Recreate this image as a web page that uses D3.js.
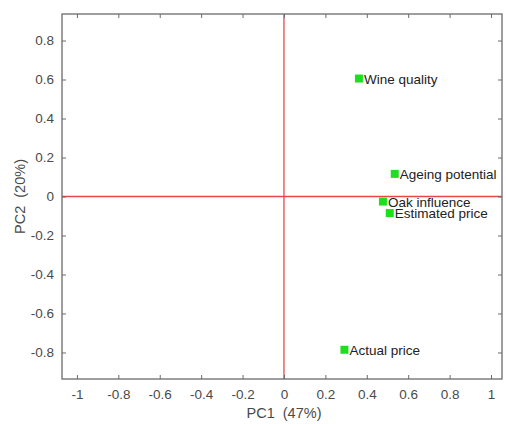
<!DOCTYPE html>
<html>
<head>
<meta charset="utf-8">
<script src="https://cdn.jsdelivr.net/npm/d3@7"></script>
<style>
  html, body { margin: 0; padding: 0; background: #fff; }
  svg { display: block; font-family: "Liberation Sans", Arial, sans-serif; }
</style>
</head>
<body>
<svg id="chart" width="506" height="424"></svg>
<script>
const labels = ["Wine quality", "Ageing potential", "Oak influence", "Estimated price", "Actual price"];
const pc1 = [0.362, 0.535, 0.478, 0.511, 0.292];
const pc2 = [0.605, 0.116, -0.026, -0.085, -0.786];
const xTicks = [-1, -0.8, -0.6, -0.4, -0.2, 0, 0.2, 0.4, 0.6, 0.8, 1];
const yTicks = [-0.8, -0.6, -0.4, -0.2, 0, 0.2, 0.4, 0.6, 0.8];
const xLabel = "PC1  (47%)";
const yLabel = "PC2  (20%)";

const svg = d3.select("#chart");
const L = 62, R = 502, T = 14, B = 379;
const x = d3.scaleLinear().domain([-1.072, 1.053]).range([L, R]);
const y = d3.scaleLinear().domain([-0.936, 0.936]).range([B, T]);

const axisColor = "#6b6b6b";
const textColor = "#4a4a4a";

// zero lines
svg.append("line").attr("x1", x(0)).attr("x2", x(0)).attr("y1", T).attr("y2", B)
  .attr("stroke", "#e8474a").attr("stroke-width", 1.3);
svg.append("line").attr("x1", L).attr("x2", R).attr("y1", y(0)).attr("y2", y(0))
  .attr("stroke", "#e8474a").attr("stroke-width", 1.3);

function styleAxis(g) {
  g.select(".domain").remove();
  g.selectAll(".tick line").attr("stroke", axisColor).attr("stroke-width", 1);
  g.selectAll(".tick text").attr("fill", textColor).style("font-size", "13.5px")
    .style("font-family", '"Liberation Sans", Arial, sans-serif');
}
const fmt = d => String(+d.toFixed(1));

svg.append("g").attr("transform", `translate(0,${B})`)
  .call(d3.axisBottom(x).tickValues(xTicks).tickFormat(fmt).tickSize(-4).tickPadding(10))
  .call(styleAxis);
svg.append("g").attr("transform", `translate(0,${T})`)
  .call(d3.axisTop(x).tickValues(xTicks).tickFormat("").tickSize(-4))
  .call(styleAxis);
svg.append("g").attr("transform", `translate(${L},0)`)
  .call(d3.axisLeft(y).tickValues(yTicks).tickFormat(fmt).tickSize(-4).tickPadding(8))
  .call(styleAxis);
svg.append("g").attr("transform", `translate(${R},0)`)
  .call(d3.axisRight(y).tickValues(yTicks).tickFormat("").tickSize(-4))
  .call(styleAxis);

// frame
svg.append("rect").attr("x", L).attr("y", T).attr("width", R - L).attr("height", B - T)
  .attr("fill", "none").attr("stroke", axisColor).attr("stroke-width", 1.3);

// points
const pts = labels.map((l, i) => ({ l, x: pc1[i], y: pc2[i] }));
const s = 8;
svg.append("g").selectAll("rect").data(pts).join("rect")
  .attr("x", d => x(d.x) - s / 2).attr("y", d => y(d.y) - s / 2)
  .attr("width", s).attr("height", s).attr("fill", "#1de01d");
svg.append("g").selectAll("text").data(pts).join("text")
  .attr("x", d => x(d.x) + s / 2 + 1).attr("y", d => y(d.y) + 5)
  .attr("fill", "#222").style("font-size", "13.5px").text(d => d.l);

// axis labels
svg.append("text").attr("x", (L + R) / 2 + 2).attr("y", 418).attr("text-anchor", "middle")
  .attr("fill", textColor).style("font-size", "14.5px").style("white-space", "pre")
  .attr("xml:space", "preserve").text(xLabel);
svg.append("text").attr("transform", `translate(25,${(T + B) / 2}) rotate(-90)`)
  .attr("text-anchor", "middle").attr("fill", textColor).style("font-size", "14.5px")
  .style("white-space", "pre").attr("xml:space", "preserve").text(yLabel);
</script>
</body>
</html>
